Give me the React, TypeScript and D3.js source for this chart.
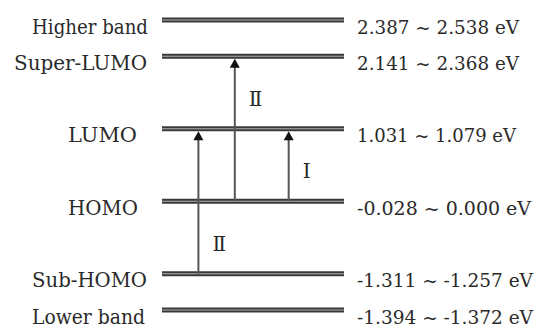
import React from "react";
import * as d3 from "d3";

// ---- Data ----
const levelNames = ["Higher band", "Super-LUMO", "LUMO", "HOMO", "Sub-HOMO", "Lower band"];
const levelLow = [2.387, 2.141, 1.031, -0.028, -1.311, -1.394];
const levelHigh = [2.538, 2.368, 1.079, 0.0, -1.257, -1.372];
// schematic slot of each level in the diagram (not to energy scale)
const levelSlot = [8, 7, 5, 3, 1, 0];

const transitionFrom = ["Sub-HOMO", "HOMO", "HOMO"];
const transitionTo = ["LUMO", "Super-LUMO", "LUMO"];
const transitionLabel = ["Ⅱ", "Ⅱ", "Ⅰ"];
const transitionLabelSpanFrom = ["Sub-HOMO", "LUMO", "HOMO"];
const transitionLabelSpanTo = ["HOMO", "Super-LUMO", "LUMO"];
const transitionPos = [0.2, 0.4, 0.696];

// ---- Layout ----
const W = 543;
const H = 327;
const lineX0 = 162;
const lineX1 = 344;
const rightLabelX = 357;
const leftLabelEnd = [148, 147, 137, 138, 147, 145];
const leftLabelWidth = [116, 133, 69, 70, 115, 113];
const rightLabelWidth = [162, 162, 159, 174, 176, 176];
const FONT = "DejaVu Serif";
const NUMFONT = "DejaVu Serif";

const fmt = (v: number) => (v === 0 ? "0.000" : d3.format(".3f")(v).replace("−", "-"));

export default function App() {
  const y = d3.scaleLinear().domain([0, 8]).range([310, 20]);
  const x = d3.scaleLinear().domain([0, 1]).range([lineX0, lineX1]);
  const idx = (n: string) => levelNames.indexOf(n);
  const ly = (n: string) => y(levelSlot[idx(n)]);

  return (
    <svg
      width={W}
      height={H}
      style={{ position: "absolute", left: 0, top: 0, background: "#fff" }}
    >
      {levelNames.map((name, i) => {
        const yy = y(levelSlot[i]);
        return (
          <g key={name}>
            <rect x={lineX0} y={yy - 2.5} width={lineX1 - lineX0} height={5} fill="#3a3a3a" />
            <line x1={lineX0} x2={lineX1} y1={yy} y2={yy} stroke="#b0b0b0" strokeWidth={1} />
            <text
              x={leftLabelEnd[i] - leftLabelWidth[i]}
              y={yy + 13.5}
              textLength={leftLabelWidth[i]}
              lengthAdjust="spacingAndGlyphs"
              style={{ fontFamily: FONT, fontSize: 20 }}
              fill="#2a2a2a"
            >
              {name}
            </text>
            <text
              x={rightLabelX}
              y={yy + 13.5}
              textLength={rightLabelWidth[i]}
              lengthAdjust="spacingAndGlyphs"
              style={{ fontFamily: FONT, fontSize: 19 }}
              fill="#2a2a2a"
            >
              {`${fmt(levelLow[i])} ~ ${fmt(levelHigh[i])} eV`}
            </text>
          </g>
        );
      })}
      {transitionFrom.map((from, i) => {
        const xx = x(transitionPos[i]);
        const y0 = ly(from);
        const y1 = ly(transitionTo[i]) + 2.5;
        const ls = (ly(transitionLabelSpanFrom[i]) + ly(transitionLabelSpanTo[i])) / 2;
        return (
          <g key={i}>
            <line x1={xx} x2={xx} y1={y0} y2={y1 + 6} stroke="#555" strokeWidth={2} />
            <path
              d={`M${xx},${y1} L${xx - 5},${y1 + 9} L${xx + 5},${y1 + 9} Z`}
              fill="#111"
            />
            <text
              x={xx + 14}
              y={ls + 13}
              style={{ fontFamily: NUMFONT, fontSize: 20 }}
              fill="#262626"
            >
              {transitionLabel[i]}
            </text>
          </g>
        );
      })}
    </svg>
  );
}
